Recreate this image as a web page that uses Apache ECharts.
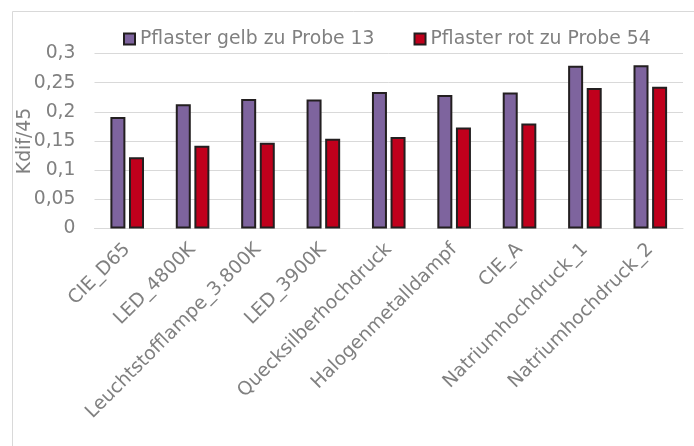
<!DOCTYPE html>
<html>
<head>
<meta charset="utf-8">
<script src="https://cdn.jsdelivr.net/npm/echarts@6/dist/echarts.min.js"></script>
<style>
html,body{margin:0;padding:0;background:#fff;}
#c{width:694px;height:446px;}
</style>
</head>
<body>
<div id="c"></div>
<script>
const categories = ["CIE_D65","LED_4800K","Leuchtstofflampe_3.800K","LED_3900K","Quecksilberhochdruck","Halogenmetalldampf","CIE_A","Natriumhochdruck_1","Natriumhochdruck_2"];
const seriesNames = ["Pflaster gelb zu Probe 13","Pflaster rot zu Probe 54"];
const gelb = [0.191,0.213,0.222,0.221,0.234,0.229,0.233,0.279,0.280];
const rot = [0.122,0.142,0.147,0.154,0.157,0.173,0.180,0.241,0.243];
const yTicks = [0,0.05,0.1,0.15,0.2,0.25,0.3];
const yAxisName = "Kdif/45";

const FONT = "DejaVu Sans";
const TXT = "#808080";
const chart = echarts.init(document.getElementById('c'), null, {renderer:'canvas'});
chart.setOption({
  animation:false,
  backgroundColor:'#fff',
  graphic:[{type:'rect',left:10,top:9,shape:{width:700,height:460},style:{fill:'none',stroke:'#d9d9d9',lineWidth:1}}],
  legend:{
    left:123, top:29.5, padding:0, itemGap:39, itemWidth:11, itemHeight:11,
    icon:'rect',
    textStyle:{fontFamily:FONT,fontSize:18.8,color:TXT}
  },
  grid:{left:94.5,right:11,top:53.5,bottom:217.5,containLabel:false,outerBoundsMode:'none'},
  xAxis:{
    type:'category', data:categories,
    axisLine:{lineStyle:{color:'#d9d9d9',width:1}},
    axisTick:{show:false},
    axisLabel:{rotate:45,interval:0,margin:18,fontFamily:FONT,fontSize:18.8,color:TXT}
  },
  yAxis:{
    type:'value', min:yTicks[0], max:yTicks[yTicks.length-1], interval:0.05,
    name:yAxisName, nameLocation:'middle', nameGap:60, nameRotate:90, nameMoveOverlap:false,
    nameTextStyle:{fontFamily:FONT,fontSize:18.8,color:TXT},
    axisLine:{show:false}, axisTick:{show:false},
    splitLine:{lineStyle:{color:'#d9d9d9',width:1}},
    axisLabel:{margin:19,fontFamily:FONT,fontSize:18.8,color:TXT,
      formatter:v=>String(Math.round(v*100)/100).replace('.',',')}
  },
  series:[
    {name:seriesNames[0],type:'bar',data:gelb,barWidth:15,barGap:'24%',
     itemStyle:{color:'#7e649e',borderColor:'#231f20',borderWidth:2}},
    {name:seriesNames[1],type:'bar',data:rot,barWidth:15,
     itemStyle:{color:'#c0001c',borderColor:'#231f20',borderWidth:2}}
  ]
});
</script>
</body>
</html>
